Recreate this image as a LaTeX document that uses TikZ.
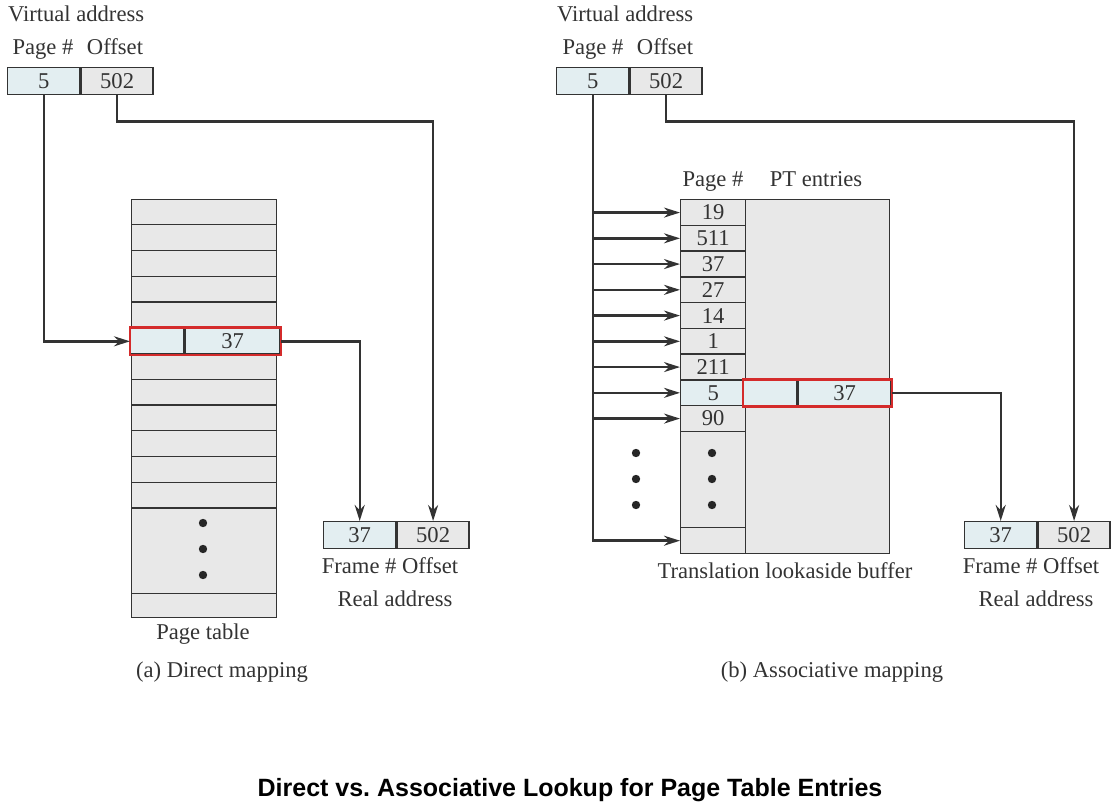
\documentclass[tikz,border=0pt]{standalone}
\usepackage{fontspec}
\setmainfont{Liberation Serif}
\newfontfamily\titlefont{Liberation Sans}
\usetikzlibrary{positioning, arrows.meta, calc}
\definecolor{cellblue}{HTML}{E3EEF1}
\definecolor{cellgray}{HTML}{E8E8E8}
\definecolor{hitred}{HTML}{D42B2B}
\definecolor{ink}{HTML}{333333}

\begin{document}
\begin{tikzpicture}[x=0.5pt, y=-0.5pt, >={Stealth[length=8pt, width=5pt]},
    font=\fontsize{11.3}{13}\selectfont, text=ink,
    cell/.style={draw=ink, line width=0.7pt, fill=cellgray, inner sep=0pt,
      minimum width=36pt, minimum height=13.5pt, anchor=north west},
    bluecell/.style={cell, fill=cellblue},
    row/.style={cell, minimum width=32.5pt, minimum height=12.875pt},
    hitbox/.style={draw=hitred, line width=1.3pt},
    link/.style={draw=ink, line width=1.2pt},
    rule/.style={draw=ink, line width=0.7pt},
    hdr/.style={anchor=base},
    dot/.style={fill=black!85}]
  \useasboundingbox (0,0) rectangle (1114,806);

  % (a) direct mapping
  \node[anchor=west] (vaA) at (1,14) {Virtual address};
  \node[bluecell] (vaP) at (7,67) {5};
  \node[cell] (vaO) [right=0pt of vaP] {502};
  \node[hdr] (lpA) at (43,55) {Page \#};
  \node[hdr] (loA) at (115,55) {Offset};

  \node[cell, minimum width=72.5pt, minimum height=209pt] (ptab) at (131,199) {};
  \foreach \i in {1,...,12}
    \draw[rule] ($(ptab.north west)+(0,\i*25.75)$) -- ($(ptab.north east)+(0,\i*25.75)$);
  \draw[rule] ($(ptab.south west)+(0,-25)$) -- ($(ptab.south east)+(0,-25)$);
  \foreach \yy in {523,549,575}
    \fill[dot] (203,\yy) circle (2.1pt);
  \node[bluecell, minimum width=26.5pt, minimum height=12.875pt] (hitL) at (130,327.75) {};
  \node[bluecell, minimum width=47.5pt, minimum height=12.875pt] (hitR) [right=0pt of hitL] {37};
  \draw[hitbox] (hitL.north west) rectangle (hitR.south east);
  \node (ptlab) at (203,634) {Page table};

  \node[bluecell] (frP) at (323,521) {37};
  \node[cell] (frO) [right=0pt of frP] {502};
  \node (frlab) at (390,566) {Frame \# Offset};
  \node (ralab) at (395,599) {Real address};
  \node (capA) at (222,672) {(a) Direct mapping};

  \draw[link, ->] (vaP.south) |- (hitL.west);
  \draw[link, ->] (hitR.east) -| (frP.north);
  \draw[link, ->] (vaO.south) -- ++(0,26) -| (frO.north);

  % (b) associative mapping
  \node[anchor=west] (vaB) at (550,14) {Virtual address};
  \node[bluecell] (vaQ) at (556,67) {5};
  \node[cell] (vaR) [right=0pt of vaQ] {502};
  \node[hdr] (lpB) at (593,55) {Page \#};
  \node[hdr] (loB) at (665,55) {Offset};

  \node[cell, minimum width=32.5pt, minimum height=177pt] (tlbA) at (680,199) {};
  \node[cell, minimum width=72pt, minimum height=177pt] (tlbB) at (745,199) {};
  \node[hdr] (tphead) at (713,187) {Page \#};
  \node[hdr] (pthead) at (816,187) {PT entries};
  \foreach \n [count=\i] in {19,511,37,27,14,1,211,5,90}
    \node[row] (tp\i) at (680,{199+(\i-1)*25.75}) {\n};
  \node[bluecell, minimum width=32.5pt, minimum height=12.875pt] at (tp8.north west) {5};
  \node[row, minimum height=13pt] (tpEnd) at (680,527) {};
  \foreach \yy in {453,479,505} {
    \fill[dot] (636,\yy) circle (2.1pt);
    \fill[dot] (712,\yy) circle (2.1pt);
  }
  \node[bluecell, minimum width=26.5pt, minimum height=12.875pt] (hitL2) at (743,379.25) {};
  \node[bluecell, minimum width=46.5pt, minimum height=12.875pt] (hitR2) [right=0pt of hitL2] {37};
  \draw[hitbox] (hitL2.north west) rectangle (hitR2.south east);
  \node (tlblab) at (785,571) {Translation lookaside buffer};

  \node[bluecell] (frQ) at (964,521) {37};
  \node[cell] (frR) [right=0pt of frQ] {502};
  \node (frlab2) at (1031,566) {Frame \# Offset};
  \node (ralab2) at (1036,599) {Real address};
  \node (capB) at (832,672) {(b) Associative mapping};

  \draw[link, ->] (vaQ.south) |- (tpEnd.west);
  \foreach \i in {1,...,9}
    \draw[link, ->] (vaQ.south |- tp\i.west) -- (tp\i.west);
  \draw[link, ->] (hitR2.east) -| (frQ.north);
  \draw[link, ->] (vaR.south) -- ++(0,26) -| (frR.north);

  \node[font=\titlefont\bfseries\fontsize{12.5}{15}\selectfont, text=black] (title) at (570,790)
    {Direct vs.\ Associative Lookup for Page Table Entries};
\end{tikzpicture}
\end{document}
